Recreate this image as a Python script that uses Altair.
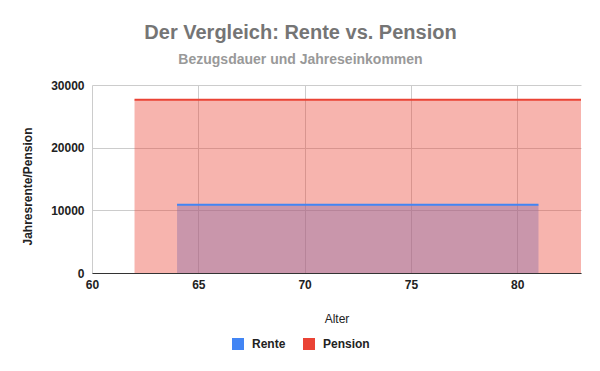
import altair as alt
import pandas as pd

# Data
rente_alter = [64, 81]
rente_wert = [10900, 10900]
pension_alter = [62, 83]
pension_wert = [27650, 27650]

series = ["Rente", "Pension"]
colors = ["#4285F4", "#EA4335"]
x_ticks = [60, 65, 70, 75, 80]
y_ticks = [0, 10000, 20000, 30000]

rows = []
for a, w in zip(rente_alter, rente_wert):
    rows.append({"Serie": "Rente", "Alter": a, "Wert": w})
for a, w in zip(pension_alter, pension_wert):
    rows.append({"Serie": "Pension", "Alter": a, "Wert": w})
df = pd.DataFrame(rows)

FONT = "Liberation Sans"

x = alt.X(
    "Alter:Q",
    scale=alt.Scale(domain=[60, 83], nice=False, zero=False),
    axis=alt.Axis(
        values=x_ticks, title="Alter", grid=True, gridColor="#cccccc",
        domainColor="#333333", domainWidth=1, ticks=False,
        labelFont=FONT, labelFontSize=12, labelFontWeight="bold", labelColor="#222222",
        labelPadding=6, labelFlush=False,
        titleFont=FONT, titleFontSize=12, titleFontWeight="normal", titleColor="#222222",
        titleY=45, titleBaseline="middle",
    ),
)
y = alt.Y(
    "Wert:Q",
    stack=None,
    scale=alt.Scale(domain=[0, 30000], nice=False),
    axis=alt.Axis(
        values=y_ticks, title="Jahresrente/Pension", grid=True, gridColor="#cccccc",
        domain=False, ticks=False, format="d",
        labelFont=FONT, labelFontSize=12, labelFontWeight="bold", labelColor="#222222",
        labelPadding=8,
        titleFont=FONT, titleFontSize=12, titleFontWeight="bold", titleColor="#222222",
        titleX=-65, titleY=101, titleAngle=-90, titleAlign="center", titleBaseline="middle",
    ),
)
color = alt.Color(
    "Serie:N",
    scale=alt.Scale(domain=series, range=colors),
    sort=series,
    legend=alt.Legend(
        title=None, orient="none", direction="horizontal", legendX=140, legendY=253,
        symbolType="square", symbolSize=144, symbolOpacity=1, symbolStrokeWidth=0,
        labelFont=FONT, labelFontSize=12, labelFontWeight="bold", labelColor="#222222",
        labelOffset=8, columnPadding=17, padding=0,
    ),
)

base = alt.Chart(df)
area = base.mark_area(opacity=0.4).encode(x=x, y=y, color=color)
line = base.mark_line(strokeWidth=2).encode(x=x, y=y, color=color)

chart = (
    alt.layer(area, line)
    .properties(
        width=489,
        height=188,
        title=alt.TitleParams(
            text="Der Vergleich: Rente vs. Pension",
            subtitle="Bezugsdauer und Jahreseinkommen",
            font=FONT, fontSize=20, fontWeight="bold", color="#757575",
            subtitleFont=FONT, subtitleFontSize=14, subtitleFontWeight="bold",
            subtitleColor="#999999", subtitlePadding=10,
            anchor="middle", frame="group", dx=-36, offset=12,
        ),
        autosize=alt.AutoSizeParams(type="none"),
        padding={"left": 92, "top": 85, "right": 19, "bottom": 98},
        background="white",
    )
    .configure_view(stroke=None)
)

chart.save("out.html", embed_options={"renderer": "svg", "actions": False})
